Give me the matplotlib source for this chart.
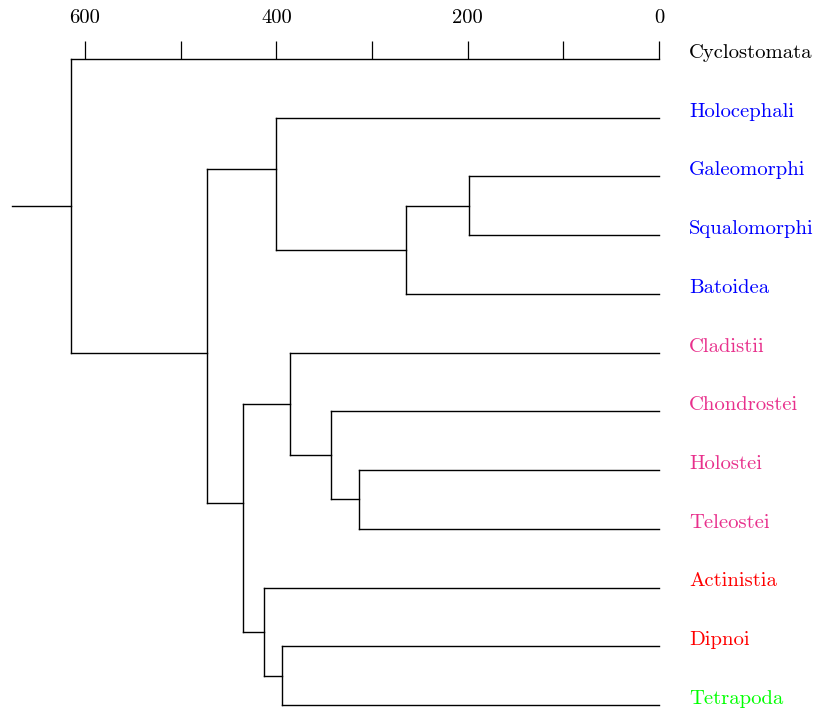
import matplotlib
matplotlib.use("Agg")
import matplotlib.pyplot as plt
from matplotlib.ticker import FuncFormatter, MultipleLocator

plt.rcParams['font.family'] = 'serif'
plt.rcParams['font.serif'] = ['cmr10', 'DejaVu Serif']
plt.rcParams['axes.formatter.use_mathtext'] = True

# leaves, top to bottom
leaves = ['Cyclostomata', 'Holocephali', 'Galeomorphi', 'Squalomorphi', 'Batoidea',
          'Cladistii', 'Chondrostei', 'Holostei', 'Teleostei',
          'Actinistia', 'Dipnoi', 'Tetrapoda']
leaf_colors = ['black', 'blue', 'blue', 'blue', 'blue',
               '#e8308c', '#e8308c', '#e8308c', '#e8308c',
               'red', 'red', '#00ff00']

# internal nodes: age (Ma), row position, children
node_age = {
    'Vertebrata': 615, 'Gnathostomata': 472, 'Chondrichthyes': 400,
    'Elasmobranchii': 264, 'Selachii': 199, 'Osteichthyes': 435,
    'Actinopterygii': 386, 'Actinopteri': 343, 'Neopterygii': 314,
    'Sarcopterygii': 413, 'Rhipidistia': 394,
}
node_row = {
    'Vertebrata': 2.5, 'Gnathostomata': 5.0, 'Chondrichthyes': 1.87,
    'Elasmobranchii': 3.25, 'Selachii': 2.5, 'Osteichthyes': 7.56,
    'Actinopterygii': 5.875, 'Actinopteri': 6.75, 'Neopterygii': 7.5,
    'Sarcopterygii': 9.75, 'Rhipidistia': 10.5,
}
node_children = {
    'Vertebrata': ['Cyclostomata', 'Gnathostomata'],
    'Gnathostomata': ['Chondrichthyes', 'Osteichthyes'],
    'Chondrichthyes': ['Holocephali', 'Elasmobranchii'],
    'Elasmobranchii': ['Selachii', 'Batoidea'],
    'Selachii': ['Galeomorphi', 'Squalomorphi'],
    'Osteichthyes': ['Actinopterygii', 'Sarcopterygii'],
    'Actinopterygii': ['Cladistii', 'Actinopteri'],
    'Actinopteri': ['Chondrostei', 'Neopterygii'],
    'Neopterygii': ['Holostei', 'Teleostei'],
    'Sarcopterygii': ['Actinistia', 'Rhipidistia'],
    'Rhipidistia': ['Dipnoi', 'Tetrapoda'],
}
root = 'Vertebrata'
root_stem_age = 676


def pos(name):
    if name in node_age:
        return node_age[name], node_row[name]
    return 0, leaves.index(name)


fig = plt.figure(figsize=(8.16, 7.11), dpi=100)
ax = fig.add_axes([0, 0, 1, (711 - 59) / 711])

lw = 1.0
for name, kids in node_children.items():
    x0, y0 = pos(name)
    rows = [pos(k)[1] for k in kids]
    ax.plot([x0, x0], [min(rows), max(rows)], color='black', lw=lw, clip_on=False)
    for k in kids:
        xk, yk = pos(k)
        ax.plot([x0, xk], [yk, yk], color='black', lw=lw, clip_on=False)

rx, ry = pos(root)
ax.plot([root_stem_age, rx], [ry, ry], color='black', lw=lw, clip_on=False)

for i, (name, c) in enumerate(zip(leaves, leaf_colors)):
    ax.annotate(name, (0, i), xytext=(30 * 0.72, 0.8), textcoords='offset points',
                va='baseline', ha='left', color=c, fontsize=14.9)

ax.set_xlim((659 - 0) / 0.9567, (659 - 816) / 0.9567)
ax.set_ylim((711 - 59) / 58.73, 0)

ax.xaxis.set_major_locator(MultipleLocator(100))
ax.xaxis.set_major_formatter(FuncFormatter(lambda v, p: '%d' % v if (0 <= v <= 600 and int(round(v)) % 200 == 0) else ''))
ax.xaxis.tick_top()
ax.tick_params(axis='x', direction='out', length=12.8, width=0.9, pad=10, labelsize=14.9)
ax.set_xticks(range(0, 700, 100))
ax.set_yticks([])
for s in ax.spines.values():
    s.set_visible(False)

fig.savefig('out.png', dpi=100)
